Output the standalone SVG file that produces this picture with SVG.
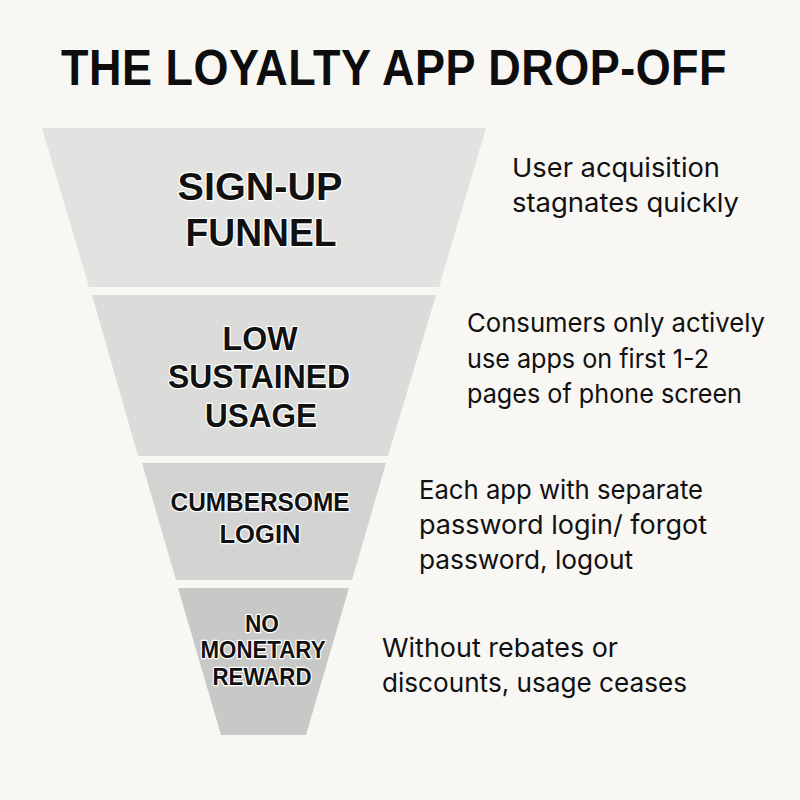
<svg xmlns="http://www.w3.org/2000/svg" width="800" height="800" viewBox="0 0 800 800">
<style>
.title{font-family:"Liberation Sans",Arial,sans-serif;font-weight:bold;font-size:45px;letter-spacing:0.5px;fill:#0d0d0d;}
.lab{font-family:"Liberation Sans",Arial,sans-serif;font-weight:bold;fill:#111;stroke:#fff;stroke-width:2.5px;paint-order:stroke;stroke-linejoin:round;text-anchor:middle;}
.desc{font-family:Inter,"Liberation Sans",Arial,sans-serif;font-size:26px;fill:#111;}
</style>
<rect width="800" height="800" fill="#f8f7f4"/>
<text class="title" transform="translate(61,85) scale(1,1.12)" x="0" y="0">THE LOYALTY APP DROP-OFF</text>
<g id="stage1">
<polygon points="42,128 486,128 439,287 89,287" fill="#e2e2e0"/>
<text class="lab" x="260" y="200" font-size="38" textLength="165" lengthAdjust="spacingAndGlyphs">SIGN-UP</text>
<text class="lab" x="261" y="246" font-size="38" textLength="151" lengthAdjust="spacingAndGlyphs">FUNNEL</text>
</g>
<g id="stage2">
<polygon points="92,295 436,295 388,456 138,456" fill="#dbdbda"/>
<text class="lab" x="260" y="350" font-size="34" textLength="75" lengthAdjust="spacingAndGlyphs">LOW</text>
<text class="lab" x="259" y="388" font-size="34" textLength="182" lengthAdjust="spacingAndGlyphs">SUSTAINED</text>
<text class="lab" x="261" y="427" font-size="34" textLength="112" lengthAdjust="spacingAndGlyphs">USAGE</text>
</g>
<g id="stage3">
<polygon points="142,463 386,463 352,580 176,580" fill="#d3d3d2"/>
<text class="lab" x="260" y="511" font-size="26" textLength="179" lengthAdjust="spacingAndGlyphs">CUMBERSOME</text>
<text class="lab" x="260" y="543" font-size="26" textLength="81" lengthAdjust="spacingAndGlyphs">LOGIN</text>
</g>
<g id="stage4">
<polygon points="178,588 349,588 306,735 221,735" fill="#c8c8c7"/>
<text class="lab" x="262" y="632" font-size="24" textLength="34" lengthAdjust="spacingAndGlyphs">NO</text>
<text class="lab" x="263" y="658" font-size="24" textLength="125" lengthAdjust="spacingAndGlyphs">MONETARY</text>
<text class="lab" x="262" y="685" font-size="24" textLength="99" lengthAdjust="spacingAndGlyphs">REWARD</text>
</g>
<g id="notes">
<text class="desc" x="512" y="177" textLength="208" lengthAdjust="spacingAndGlyphs">User acquisition</text>
<text class="desc" x="512" y="212" textLength="227" lengthAdjust="spacingAndGlyphs">stagnates quickly</text>
<text class="desc" x="467" y="332" textLength="298" lengthAdjust="spacingAndGlyphs">Consumers only actively</text>
<text class="desc" x="467" y="368" textLength="242" lengthAdjust="spacingAndGlyphs">use apps on first 1-2</text>
<text class="desc" x="467" y="403" textLength="275" lengthAdjust="spacingAndGlyphs">pages of phone screen</text>
<text class="desc" x="419" y="499" textLength="284" lengthAdjust="spacingAndGlyphs">Each app with separate</text>
<text class="desc" x="419" y="534" textLength="288" lengthAdjust="spacingAndGlyphs">password login/ forgot</text>
<text class="desc" x="419" y="569" textLength="214" lengthAdjust="spacingAndGlyphs">password, logout</text>
<text class="desc" x="382" y="657" textLength="236" lengthAdjust="spacingAndGlyphs">Without rebates or</text>
<text class="desc" x="382" y="692" textLength="305" lengthAdjust="spacingAndGlyphs">discounts, usage ceases</text>
</g>
</svg>
